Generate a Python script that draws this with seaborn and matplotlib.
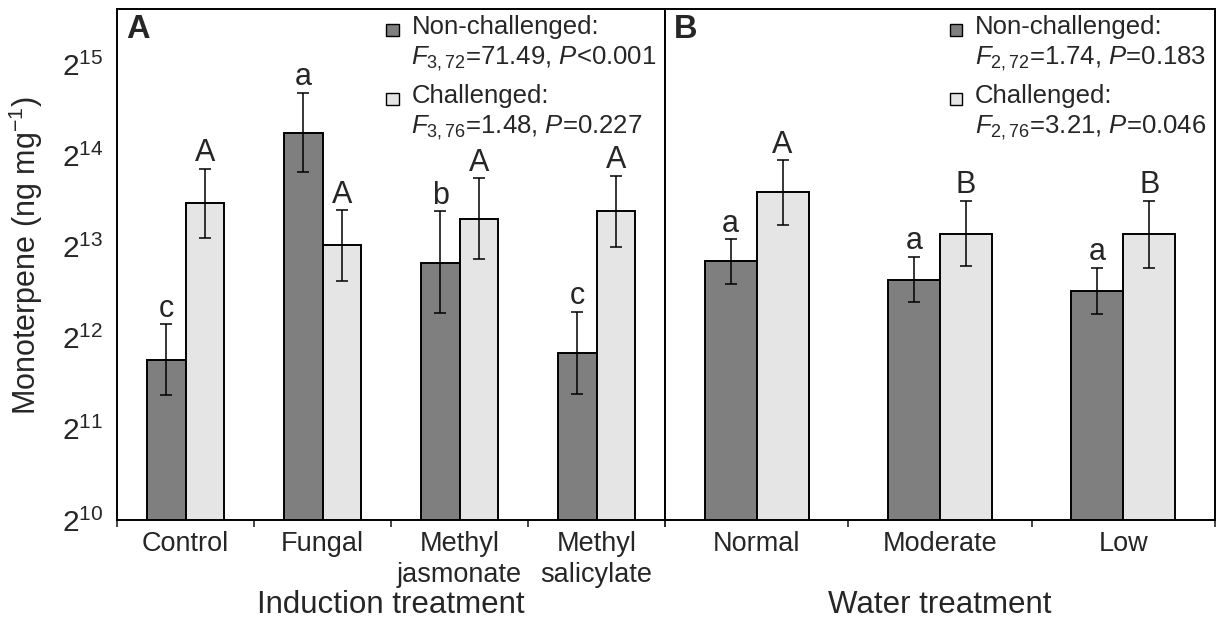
import numpy as np
import pandas as pd
import matplotlib
matplotlib.use("Agg")
import matplotlib.pyplot as plt
import matplotlib.patches as mpatches
from matplotlib.legend_handler import HandlerBase
from matplotlib.ticker import FuncFormatter, NullLocator
import seaborn as sns

groups = ["Non-challenged", "Challenged"]

induction = ["Control", "Fungal", "Methyl\njasmonate", "Methyl\nsalicylate"]
ind_nc_mean = [3444, 19443, 7216, 3635]
ind_nc_low = [2640, 14443, 4929, 2667]
ind_nc_high = [4529, 26341, 10697, 4994]
ind_c_mean = [11395, 8260, 10086, 10749]
ind_c_low = [8725, 6325, 7440, 8192]
ind_c_high = [14798, 10786, 13750, 14001]
ind_nc_letters = ["c", "a", "b", "c"]
ind_c_letters = ["A", "A", "A", "A"]
ind_stats = ["Non-challenged:\n$F_{3,72}$=71.49, $P$<0.001",
             "Challenged:\n$F_{3,76}$=1.48, $P$=0.227"]

water = ["Normal", "Moderate", "Low"]
wat_nc_mean = [7312, 6361, 5833]
wat_nc_low = [6165, 5367, 4888]
wat_nc_high = [8659, 7574, 6965]
wat_c_mean = [12373, 9021, 8995]
wat_c_low = [9675, 7073, 6985]
wat_c_high = [15772, 11585, 11585]
wat_nc_letters = ["a", "a", "a"]
wat_c_letters = ["A", "B", "B"]
wat_stats = ["Non-challenged:\n$F_{2,72}$=1.74, $P$=0.183",
             "Challenged:\n$F_{2,76}$=3.21, $P$=0.046"]

y_exponents = [10, 11, 12, 13, 14, 15]
y_top_exponent = 15.606

# ---------------- style ----------------
sns.set_style("white")
plt.rcParams["font.family"] = ["Liberation Sans", "DejaVu Sans"]
plt.rcParams["mathtext.fontset"] = "custom"
plt.rcParams["mathtext.rm"] = "Liberation Sans"
plt.rcParams["mathtext.it"] = "Liberation Sans:italic"
plt.rcParams["mathtext.bf"] = "Liberation Sans:bold"

DARK = "#7f7f7f"
LIGHT = "#e5e5e5"


class TopSquareHandler(HandlerBase):
    def __init__(self, offset=0.67, size=0.47, **kw):
        super().__init__(**kw)
        self.offset = offset
        self.size = size

    def create_artists(self, legend, orig_handle, xdescent, ydescent,
                       width, height, fontsize, trans):
        s = self.size * fontsize
        x0 = -xdescent + width - s
        y0 = -ydescent + self.offset * fontsize
        r = mpatches.Rectangle((x0, y0), s, s,
                               facecolor=orig_handle.get_facecolor(),
                               edgecolor="black", linewidth=1.0,
                               transform=trans)
        return [r]


fig = plt.figure(figsize=(12.24, 6.24), dpi=100)
axA = fig.add_axes([117 / 1224, 1 - 520 / 624, 548 / 1224, 511 / 624])
axB = fig.add_axes([665 / 1224, 1 - 520 / 624, 550 / 1224, 511 / 624])


def draw_panel(ax, cats, nc_m, nc_lo, nc_hi, c_m, c_lo, c_hi,
               nc_let, c_let, stats, letter, show_ylabels, leg_x):
    n = len(cats)
    df = pd.DataFrame({
        "treatment": cats + cats,
        "group": [groups[0]] * n + [groups[1]] * n,
        "value": nc_m + c_m,
    })
    sns.barplot(data=df, x="treatment", y="value", hue="group",
                order=cats, hue_order=groups, palette=[DARK, LIGHT],
                saturation=1, edgecolor="black", linewidth=1.4,
                width=0.566, errorbar=None, legend=False, ax=ax)
    ax.set_yscale("log", base=2)

    for cont, m, lo, hi, lets in zip(ax.containers,
                                     [nc_m, c_m], [nc_lo, c_lo], [nc_hi, c_hi],
                                     [nc_let, c_let]):
        xs = [b.get_x() + b.get_width() / 2 for b in cont]
        m = np.array(m, float)
        yerr = [m - np.array(lo, float), np.array(hi, float) - m]
        ax.errorbar(xs, m, yerr=yerr, fmt="none", ecolor="black",
                    elinewidth=1.1, capsize=4.3, capthick=1.1, zorder=5)
        for x, h, t in zip(xs, hi, lets):
            ax.annotate(t, (x, h), xytext=(0, 0.5), textcoords="offset points",
                        ha="center", va="bottom", fontsize=22)

    ax.set_ylim(2 ** 10, 2 ** y_top_exponent)
    ax.set_yticks([2 ** e for e in y_exponents])
    ax.yaxis.set_minor_locator(NullLocator())
    ax.yaxis.set_major_formatter(
        FuncFormatter(lambda v, p: "$2^{%d}$" % int(round(np.log2(v)))))
    ax.tick_params(axis="y", direction="in", length=5.5, width=1.2,
                   labelsize=21.5, pad=10, labelleft=show_ylabels)

    ax.set_xlim(-0.5, n - 0.5)
    ax.set_xticks(range(n))
    ax.set_xticklabels(cats, linespacing=1.25)
    ax.set_xticks(np.arange(-0.5, n), minor=True)
    ax.tick_params(axis="x", which="major", length=0, labelsize=19.5, pad=8)
    ax.tick_params(axis="x", which="minor", direction="out", length=5,
                   width=1.2, bottom=True)

    for sp in ax.spines.values():
        sp.set_visible(True)
        sp.set_linewidth(1.4)
        sp.set_color("black")

    ax.set_ylabel("")
    ax.set_xlabel("")

    ax.text(0.0164, 0.99, letter, transform=ax.transAxes, ha="left", va="top",
            fontsize=23.5, fontweight="bold")

    handles = [mpatches.Patch(facecolor=DARK), mpatches.Patch(facecolor=LIGHT)]
    leg = ax.legend(handles, stats, loc="upper right",
                    bbox_to_anchor=(leg_x, 0.989), borderaxespad=0,
                    borderpad=0, frameon=False, fontsize=18.5,
                    labelspacing=0.45, handlelength=0.6, handletextpad=0.5,
                    handler_map={mpatches.Patch: TopSquareHandler()})
    for t in leg.get_texts():
        t.set_linespacing(1.28)


draw_panel(axA, induction, ind_nc_mean, ind_nc_low, ind_nc_high,
           ind_c_mean, ind_c_low, ind_c_high, ind_nc_letters, ind_c_letters,
           ind_stats, "A", True, 0.985)
draw_panel(axB, water, wat_nc_mean, wat_nc_low, wat_nc_high,
           wat_c_mean, wat_c_low, wat_c_high, wat_nc_letters, wat_c_letters,
           wat_stats, "B", False, 0.9836)

axA.set_ylabel("Monoterpene (ng mg$^{-1}$)", fontsize=22)
axA.yaxis.set_label_coords(-0.132, 0.518)
axA.set_xlabel("Induction treatment", fontsize=22.5)
axA.xaxis.set_label_coords(0.5, -0.137)
axB.set_xlabel("Water treatment", fontsize=22.5)
axB.xaxis.set_label_coords(0.5, -0.137)

fig.savefig("out.png", dpi=100)
